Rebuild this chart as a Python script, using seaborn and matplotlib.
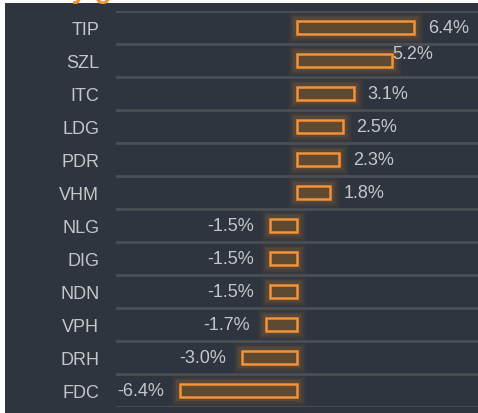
import matplotlib
matplotlib.use("Agg")
import matplotlib.pyplot as plt
import seaborn as sns
import pandas as pd
from matplotlib.patches import Rectangle

# stock tickers and their % price change
tickers = ['TIP', 'SZL', 'ITC', 'LDG', 'PDR', 'VHM', 'NLG', 'DIG', 'NDN', 'VPH', 'DRH', 'FDC']
changes = [6.4, 5.2, 3.1, 2.5, 2.3, 1.8, -1.5, -1.5, -1.5, -1.7, -3.0, -6.4]
labels = ['6.4%', '5.2%', '3.1%', '2.5%', '2.3%', '1.8%', '-1.5%', '-1.5%', '-1.5%', '-1.7%', '-3.0%', '-6.4%']

df = pd.DataFrame({'Ticker': tickers, 'Change': changes})

bg = '#2f353e'
orange = '#f39237'
text_col = '#c4c6c9'

sns.set_style("dark")
plt.rcParams['font.family'] = ['Liberation Sans', 'DejaVu Sans']

fig = plt.figure(figsize=(4.78, 4.14), dpi=100, facecolor='white')
fig.patches.append(Rectangle((5 / 478, 0), 1, 410 / 414, transform=fig.transFigure,
                             facecolor=bg, edgecolor='none', zorder=-5))
# title sits mostly above the visible area, only the descenders show
fig.text(21 / 478, 1 + 2 / 414, 'Daily gainers & losers', color=orange, fontsize=20,
         fontweight='bold', va='baseline', ha='left', zorder=-4)

ax = fig.add_axes([116 / 478, 6 / 414, 1 - 116 / 478, 396 / 414])
ax.set_facecolor(bg)

# glow behind the bars
for lw, a in [(12, 0.05), (9, 0.07), (6, 0.1)]:
  sns.barplot(data=df, x='Change', y='Ticker', orient='h', ax=ax, width=0.4,
              facecolor='none', edgecolor=orange, linewidth=lw, alpha=a)
sns.barplot(data=df, x='Change', y='Ticker', orient='h', ax=ax, width=0.4,
            facecolor='#5f4a31', edgecolor=orange, linewidth=1.8)

ax.set_xlim(-9.9, 9.9)
ax.set_ylim(11.5, -0.5)
for b in range(len(tickers) + 1):
  ax.axhline(b - 0.5, color='#4a4f56', lw=2, zorder=0)

for i, (v, lab) in enumerate(zip(changes, labels)):
  if lab == '5.2%':
    ax.annotate(lab, (v, i), xytext=(0, 5), textcoords='offset points',
                ha='left', va='center', color=text_col, fontsize=13)
  elif v >= 0:
    ax.annotate(lab, (v, i), xytext=(10, 0), textcoords='offset points',
                ha='left', va='center', color=text_col, fontsize=13)
  else:
    ax.annotate(lab, (v, i), xytext=(-11.5, 0), textcoords='offset points',
                ha='right', va='center', color=text_col, fontsize=13)

ax.set_xlabel('')
ax.set_ylabel('')
ax.set_xticks([])
ax.tick_params(axis='y', length=0, pad=12, labelsize=13, labelcolor=text_col)
for s in ax.spines.values():
  s.set_visible(False)

fig.savefig('out.png', dpi=100, facecolor=fig.get_facecolor())
